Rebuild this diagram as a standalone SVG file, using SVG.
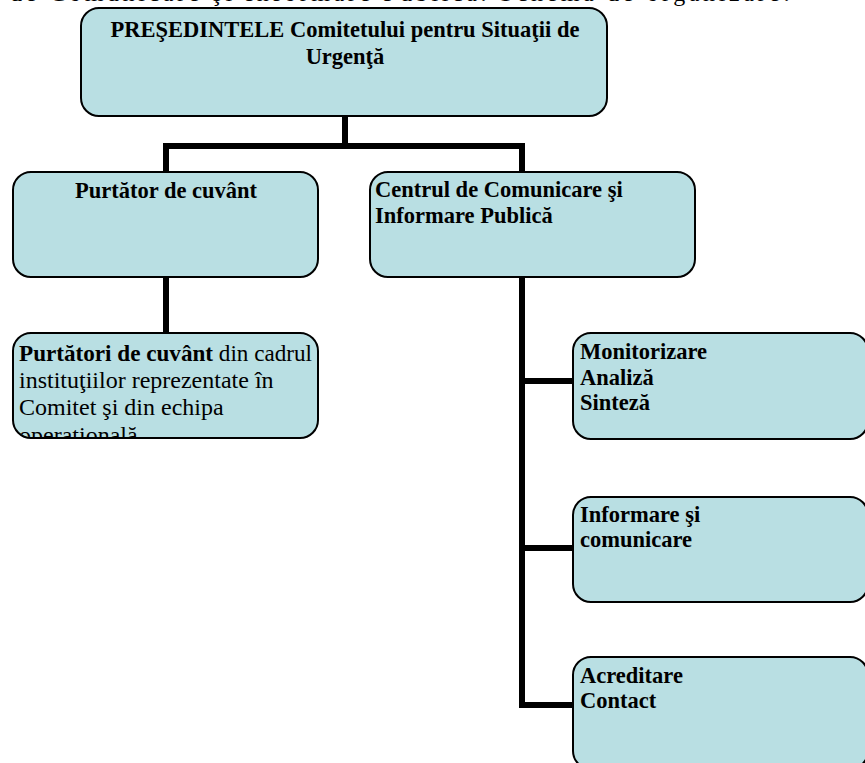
<svg xmlns="http://www.w3.org/2000/svg" width="865" height="763" viewBox="0 0 865 763">
<style>
.box{fill:#B9DFE3;stroke:#000;stroke-width:2}
.b{font-family:"Liberation Serif","Times New Roman",serif;font-weight:bold;font-size:22.5px;fill:#000}
.r{font-family:"Liberation Serif","Times New Roman",serif;font-size:24px;fill:#000}
.conn{fill:none;stroke:#000;stroke-width:6;stroke-linejoin:miter}
</style>
<defs>
<clipPath id="clipPurtatori"><rect x="13" y="333" width="305" height="104" rx="18"/></clipPath>
</defs>
<rect width="865" height="763" fill="#fff"/>
<text class="r" x="10" y="1" textLength="780" lengthAdjust="spacing">de Comunicare şi Informare Publică. Schema de organizare:</text>
<g id="connectors">
<path class="conn" d="M345,116 V146 M163,146 H525 M166,143 V172 M522,143 V172"/>
<path class="conn" d="M166,277 V333"/>
<path class="conn" d="M522,277 V708 M519,381 H573 M519,548 H573 M519,705 H573"/>
</g>
<g id="presedinte">
<rect class="box" x="81" y="8" width="526" height="108" rx="18"/>
<text class="b" x="345" y="37" text-anchor="middle">PREŞEDINTELE Comitetului pentru Situaţii de</text>
<text class="b" x="345" y="64" text-anchor="middle">Urgenţă</text>
</g>
<g id="purtator">
<rect class="box" x="13" y="172" width="305" height="105" rx="18"/>
<text class="b" x="166" y="198" text-anchor="middle">Purtător de cuvânt</text>
</g>
<g id="purtatori">
<rect class="box" x="13" y="333" width="305" height="105" rx="18"/>
<g clip-path="url(#clipPurtatori)">
<text class="r" x="19" y="361" textLength="293" lengthAdjust="spacingAndGlyphs"><tspan font-weight="bold">Purtători de cuvânt</tspan> din cadrul</text>
<text class="r" x="19" y="388">instituţiilor reprezentate în</text>
<text class="r" x="19" y="415">Comitet şi din echipa</text>
<text class="r" x="19" y="443">operaţională</text>
</g>
</g>
<g id="centrul">
<rect class="box" x="370" y="172" width="325" height="105" rx="18"/>
<text class="b" x="375" y="197">Centrul de Comunicare şi</text>
<text class="b" x="375" y="223">Informare Publică</text>
</g>
<g id="monitorizare">
<rect class="box" x="573" y="333" width="295" height="106" rx="18"/>
<text class="b" x="580" y="359">Monitorizare</text>
<text class="b" x="580" y="385">Analiză</text>
<text class="b" x="580" y="410">Sinteză</text>
</g>
<g id="informare">
<rect class="box" x="573" y="497" width="295" height="105" rx="18"/>
<text class="b" x="580" y="522">Informare şi</text>
<text class="b" x="580" y="547">comunicare</text>
</g>
<g id="acreditare">
<rect class="box" x="573" y="657" width="295" height="112" rx="18"/>
<text class="b" x="580" y="683">Acreditare</text>
<text class="b" x="580" y="708">Contact</text>
</g>
</svg>
